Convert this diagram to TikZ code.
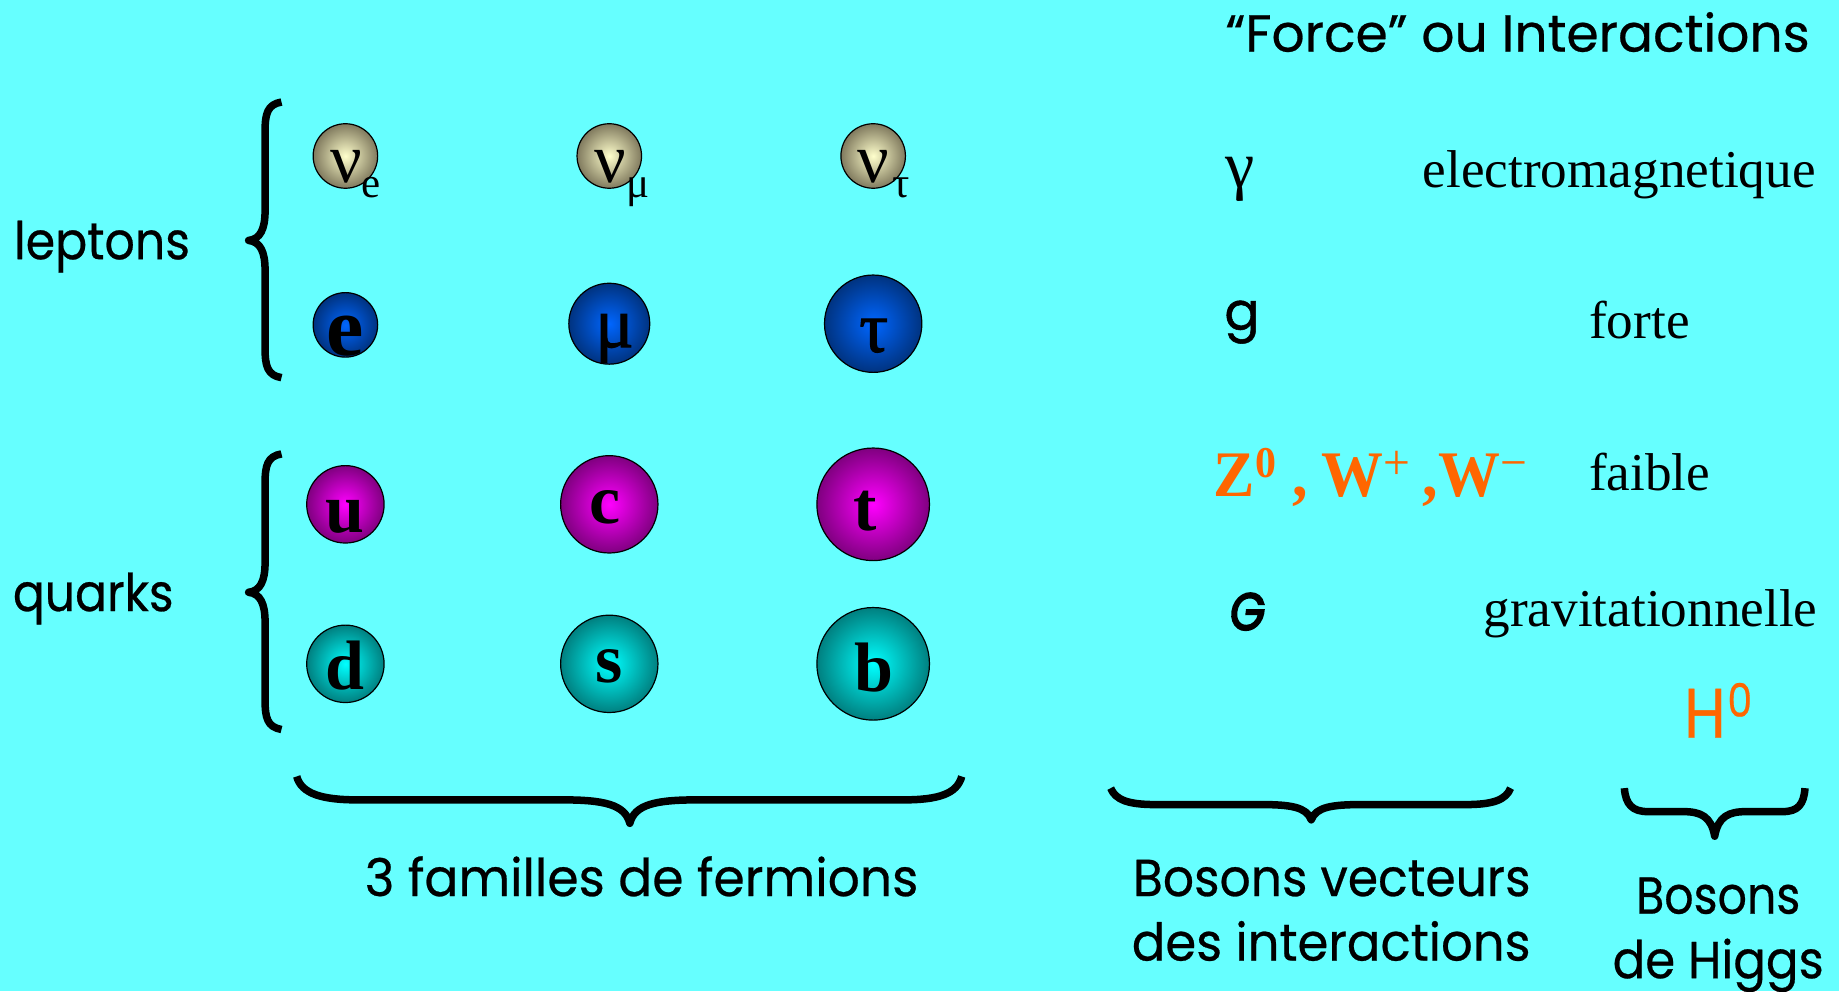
\documentclass[tikz,border=0pt]{standalone}
\usepackage{fontspec}
\usepackage{graphicx}
\setmainfont{Liberation Serif}
\newfontfamily\hand[FakeBold=0.5]{Poppins}
\newfontfamily\handb[FakeBold=1]{Poppins}
\newfontfamily\handg[FakeBold=4,FakeSlant=0.15]{Poppins}
\newfontfamily\serifb[FakeBold=1.5]{Liberation Serif}
\definecolor{bgc}{HTML}{66FFFF}
\definecolor{orng}{HTML}{FF6600}
\definecolor{nuin}{HTML}{FFFFCC}\definecolor{nuout}{HTML}{807A5E}
\definecolor{blin}{HTML}{0066FF}\definecolor{blout}{HTML}{003380}
\definecolor{mgin}{HTML}{FF00FF}\definecolor{mgout}{HTML}{800080}
\definecolor{cyin}{HTML}{00FFFF}\definecolor{cyout}{HTML}{008080}
\newcommand\hw[2]{\resizebox{#1\dimexpr1.1728pt\relax}{\height}{#2}}
\newcommand\upsc[3]{\raisebox{#1pt}{\fontsize{#2}{#2}\selectfont #3}}
\tikzset{
 x=1.1728pt,y=-1.1728pt,
 ballbase/.style={draw=black,line width=1.2pt},
 nub/.style={ballbase,inner color=nuin,outer color=nuout},
 blub/.style={ballbase,inner color=blin,outer color=blout},
 mgb/.style={ballbase,inner color=mgin,outer color=mgout},
 cyb/.style={ballbase,inner color=cyin,outer color=cyout},
 lab/.style={anchor=base west,inner sep=0pt,outer sep=0pt},
 ser/.style={lab,font=\fontsize{53.2}{53}\selectfont},
 hnd/.style={lab,font=\hand\fontsize{52}{58}\selectfont},
 sym/.style={anchor=base,inner sep=0pt,font=\fontsize{70}{70}\selectfont},
 symb/.style={anchor=base,inner sep=0pt,font=\bfseries\fontsize{70}{70}\selectfont},
 symg/.style={anchor=base,inner sep=0pt,font=\serifb\fontsize{72}{72}\selectfont},
 sub/.style={anchor=base,inner sep=0pt,font=\fontsize{43}{43}\selectfont},
 br/.style={draw=black,line width=7.5pt,line cap=butt,line join=round},
}
\begin{document}
\begin{tikzpicture}
\useasboundingbox[fill=bgc] (0,0) rectangle (1568,845);
% balls
\shade[nub] (294.5,133) circle (27.5);
\shade[nub] (519.5,133) circle (27.5);
\shade[nub] (744.5,133) circle (27.5);
\shade[blub] (294.5,277) circle (27.5);
\shade[blub] (519.5,276) circle (34.5);
\shade[blub] (744.5,276) circle (41.5);
\shade[mgb] (294.5,430) circle (33);
\shade[mgb] (519.5,430) circle (41.5);
\shade[mgb] (744.5,430) circle (48);
\shade[cyb] (294.5,566) circle (33);
\shade[cyb] (519.5,566) circle (41.5);
\shade[cyb] (744.5,566) circle (48);
% ball letters
\node[sym] (nu1) at (295,156) {ν};
\node[sym] (nu2) at (520,156) {ν};
\node[sym] (nu3) at (745,156) {ν};
\node[sub] (se) at (316,168) {e};
\node[sub] (sm) at (544,168) {μ};
\node[sub] (st) at (768,168) {τ};
\node[anchor=base,inner sep=0pt,font=\bfseries\fontsize{84}{84}\selectfont] (e) at (294,303) {e};
\node[symg] (mu) at (524,296) {μ};
\node[symg] (tau) at (745,300) {τ};
\node[symb] (u) at (294,454) {u};
\node[symb] (c) at (516,446) {c};
\node[symb] (t) at (738,452) {t};
\node[symb] (d) at (294,588) {d};
\node[symb] (s) at (519,582) {s};
\node[symb] (b) at (745,590) {b};
% braces
\draw[br] (240,87) .. controls (228,89) and (226,97) .. (226,112) -- (226,180) .. controls (226,195) and (222,204) .. (212,205) .. controls (222,206) and (226,215) .. (226,230) -- (226,297) .. controls (226,312) and (228,320) .. (240,322);
\draw[br] (240,387) .. controls (228,389) and (226,397) .. (226,412) -- (226,480) .. controls (226,495) and (222,504) .. (212,505) .. controls (222,506) and (226,515) .. (226,530) -- (226,597) .. controls (226,612) and (228,620) .. (240,622);
\draw[br] (253,662) .. controls (257,677) and (275,682) .. (305,682) -- (480,682) .. controls (515,682) and (533,686) .. (537,702) .. controls (541,686) and (559,682) .. (594,682) -- (770,682) .. controls (800,682) and (816,677) .. (820,662);
\draw[br] (947,672) .. controls (951,682) and (962,686) .. (985,686) -- (1075,686) .. controls (1100,686) and (1114,688) .. (1118,699) .. controls (1122,688) and (1136,686) .. (1161,686) -- (1250,686) .. controls (1273,686) and (1284,682) .. (1288,672);
\draw[br] (1385,672) .. controls (1386,686) and (1392,692) .. (1405,692) -- (1435,692) .. controls (1450,692) and (1459,696) .. (1462,713) .. controls (1465,696) and (1474,692) .. (1489,692) -- (1520,692) .. controls (1533,692) and (1538,686) .. (1539,672);
% labels
\node[hnd] (lep) at (12,221) {\hw{150}{leptons}};
\node[hnd] (qua) at (11,521) {\hw{137}{quarks}};
\node[hnd] (fam) at (311,764) {\hw{472}{3 familles de fermions}};
\node[hnd] (bv) at (966,764) {\hw{339}{Bosons vecteurs}};
\node[hnd] (di) at (965,819) {\hw{340}{des interactions}};
\node[hnd] (bo) at (1395,779) {\hw{140}{Bosons}};
\node[hnd] (dh) at (1375,834) {\hw{180}{de Higgs}};
\node[hnd] (ti) at (1045,44) {\hw{498}{“Force” ou Interactions}};
\node[ser] (em) at (1213,160) {electromagnetique};
\node[ser] (fo) at (1355,289) {forte};
\node[ser] (fa) at (1355,418) {faible};
\node[ser] (gr) at (1265,534) {gravitationnelle};
\node[anchor=base,inner sep=0pt,font=\fontsize{66}{66}\selectfont] (ga) at (1057,160) {γ};
\node[anchor=base,inner sep=0pt,font=\handb\fontsize{52}{52}\selectfont] (gl) at (1059,281) {g};
\node[anchor=base,inner sep=0pt,font=\handg\fontsize{52}{52}\selectfont] (gg) at (1062,537) {\hw{30}{G}};
\node[lab,text=orng,font=\bfseries\fontsize{65}{65}\selectfont] (zw) at (1035,423) {\hw{267}{Z\upsc{19}{44}{\textbf{0}}\hspace{17pt},\hspace{15pt}W\upsc{17}{50}{\mdseries +}\hspace{12.7pt},W\upsc{17}{50}{\mdseries −}}};
\node[lab,text=orng,font=\hand\fontsize{70}{70}\selectfont] (h) at (1436,629) {\hw{58}{H\hspace{2pt}\raisebox{21pt}{\fontsize{46}{46}\selectfont 0}}};
\end{tikzpicture}
\end{document}
